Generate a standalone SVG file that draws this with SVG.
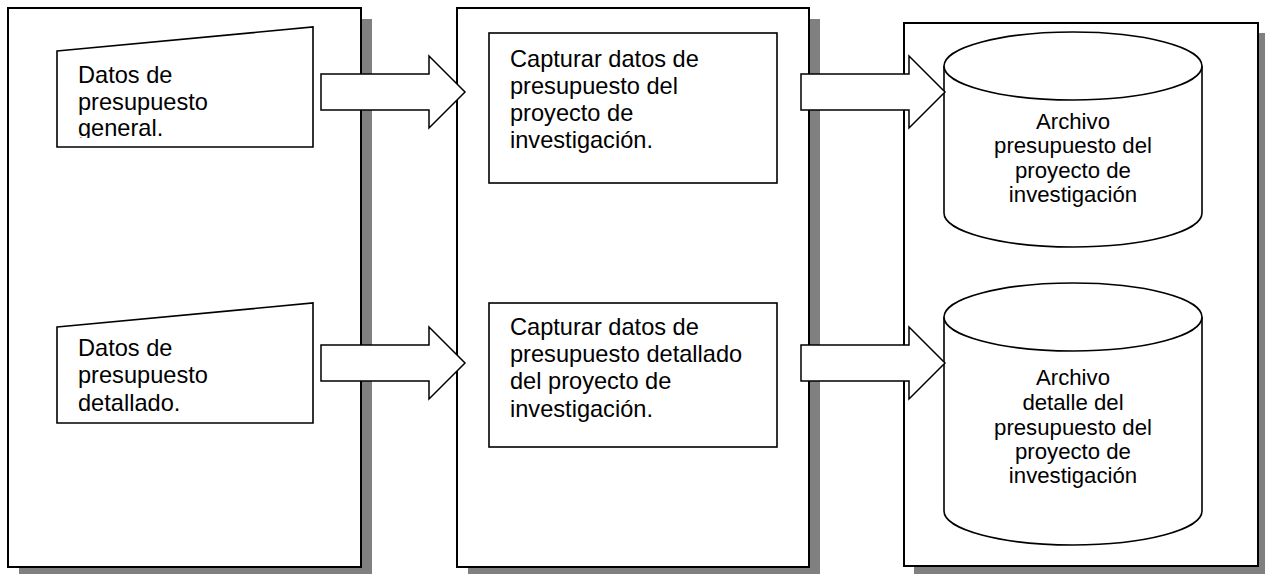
<svg xmlns="http://www.w3.org/2000/svg" width="1265" height="574" viewBox="0 0 1265 574">
<style>
.panel{fill:#fff;stroke:#000;stroke-width:2}
.shadow{fill:#808080}
.shape{fill:#fff;stroke:#000;stroke-width:1.6}
.arrow{fill:#fff;stroke:#000;stroke-width:1.5;stroke-linejoin:miter}
.t{font-family:"Liberation Sans",Arial,sans-serif;font-size:23.6px;fill:#000}
.c{font-family:"Liberation Sans",Arial,sans-serif;font-size:22.2px;fill:#000;text-anchor:middle}
</style>
<defs>
<clipPath id="clip1"><rect x="57" y="27" width="256" height="111"/></clipPath>
</defs>
<rect width="1265" height="574" fill="#fff"/>
<g id="panel1">
<rect class="shadow" x="19" y="19" width="353" height="559"/>
<rect class="panel" x="8" y="8" width="353" height="559"/>
</g>
<g id="panel2">
<rect class="shadow" x="468" y="19" width="352" height="559"/>
<rect class="panel" x="457" y="8" width="352" height="559"/>
</g>
<g id="panel3">
<rect class="shadow" x="914" y="33" width="354" height="545"/>
<rect class="panel" x="904" y="23" width="354" height="543"/>
</g>
<g id="doc1">
<polygon class="shape" points="57,51 313,27 313,147 57,147"/>
<g clip-path="url(#clip1)">
<text class="t" x="78" y="83">Datos de</text>
<text class="t" x="78" y="110">presupuesto</text>
<text class="t" x="78" y="136">general.</text>
</g>
</g>
<g id="doc2">
<polygon class="shape" points="57,327 313,303 313,423 57,423"/>
<text class="t" x="78" y="356">Datos de</text>
<text class="t" x="78" y="383">presupuesto</text>
<text class="t" x="78" y="411">detallado.</text>
</g>
<g id="proc1">
<rect class="shape" x="489" y="33" width="288" height="150"/>
<text class="t" x="510" y="67">Capturar datos de</text>
<text class="t" x="510" y="94">presupuesto del</text>
<text class="t" x="510" y="121">proyecto de</text>
<text class="t" x="510" y="148">investigación.</text>
</g>
<g id="proc2">
<rect class="shape" x="489" y="303" width="288" height="144"/>
<text class="t" x="510" y="335">Capturar datos de</text>
<text class="t" x="510" y="362">presupuesto detallado</text>
<text class="t" x="510" y="389">del proyecto de</text>
<text class="t" x="510" y="417">investigación.</text>
</g>
<g id="store1">
<path class="shape" d="M944,66 L944,213 A129,34 0 0 0 1202,213 L1202,66"/>
<ellipse class="shape" cx="1073" cy="66" rx="129" ry="34"/>
<text class="c" x="1073" y="129">Archivo</text>
<text class="c" x="1073" y="153">presupuesto del</text>
<text class="c" x="1073" y="178">proyecto de</text>
<text class="c" x="1073" y="202">investigación</text>
</g>
<g id="store2">
<path class="shape" d="M944,317 L944,511 A129,34 0 0 0 1202,511 L1202,317"/>
<ellipse class="shape" cx="1073" cy="317" rx="129" ry="34"/>
<text class="c" x="1073" y="385">Archivo</text>
<text class="c" x="1073" y="410">detalle del</text>
<text class="c" x="1073" y="435">presupuesto del</text>
<text class="c" x="1073" y="459">proyecto de</text>
<text class="c" x="1073" y="483">investigación</text>
</g>
<g id="connectors">
<polygon class="arrow" points="321,74 429,74 429,56 465,92 429,128 429,110 321,110"/>
<polygon class="arrow" points="321,345 429,345 429,327 465,363 429,399 429,381 321,381"/>
<polygon class="arrow" points="801,74 909,74 909,56 945,92 909,128 909,110 801,110"/>
<polygon class="arrow" points="801,345 909,345 909,327 945,363 909,399 909,381 801,381"/>
</g>
</svg>
